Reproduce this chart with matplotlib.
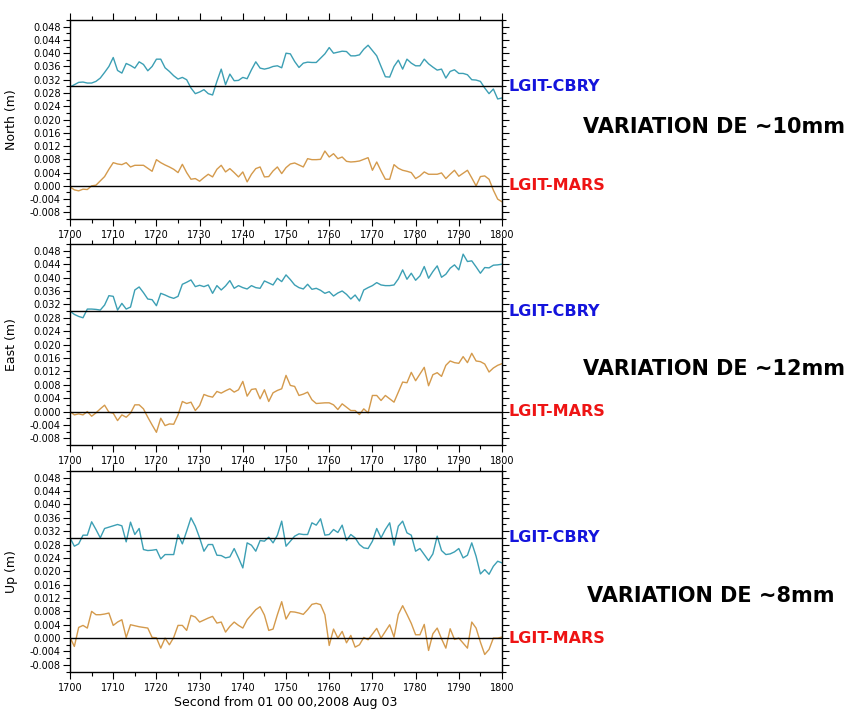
import numpy as np
import matplotlib.pyplot as plt
from matplotlib.ticker import MultipleLocator, FormatStrFormatter

# GPS baseline components, one sample per second (values in mm)
seconds = np.arange(1700, 1801)

north_cbry = [29.8, 30.5, 31.2, 31.3, 31.0, 31.0, 31.5, 32.5, 34.2, 36.0,
              38.7, 34.8, 34.0, 36.9, 36.3, 35.5, 37.4, 36.6, 34.7, 36.0,
              38.2, 38.2, 35.6, 34.5, 33.2, 32.2, 32.7, 32.0, 29.5, 27.8,
              28.3, 29.0, 27.8, 27.4, 31.5, 35.2, 30.5, 33.7, 31.7, 31.8,
              32.7, 32.3, 35.0, 37.4, 35.5, 35.2, 35.5, 36.0, 36.2, 35.6,
              40.0, 39.8, 37.5, 35.7, 37.0, 37.3, 37.2, 37.2, 38.5, 39.8,
              41.7, 40.0, 40.3, 40.6, 40.5, 39.2, 39.2, 39.5, 41.2, 42.4,
              40.8, 39.2, 36.0, 32.9, 32.8, 36.0, 37.9, 35.2, 38.2, 37.0,
              36.2, 36.2, 38.2, 36.8, 35.8, 34.9, 35.2, 32.5, 34.5, 35.0,
              33.9, 33.9, 33.5, 32.0, 31.9, 31.5, 29.5, 27.8, 29.2, 26.2,
              26.5]
north_mars = [-0.3, -1.2, -1.5, -1.0, -1.1, 0.0, 0.2, 1.5, 2.8, 5.0,
              7.0, 6.6, 6.4, 7.0, 5.7, 6.2, 6.2, 6.2, 5.3, 4.4,
              7.9, 7.0, 6.3, 5.7, 5.0, 4.0, 6.5, 4.0, 2.0, 2.2,
              1.4, 2.5, 3.5, 2.7, 5.0, 6.2, 4.2, 5.2, 4.0, 2.7,
              4.2, 1.2, 3.5, 5.2, 5.7, 2.7, 2.8, 4.5, 5.7, 3.7,
              5.5, 6.6, 6.9, 6.3, 5.7, 8.2, 7.9, 7.9, 8.0, 10.5,
              8.7, 9.7, 8.2, 8.7, 7.4, 7.2, 7.3, 7.5, 8.0, 8.5,
              4.7, 7.2, 4.5, 2.0, 2.0, 6.4, 5.3, 4.7, 4.4, 4.0,
              2.2, 3.0, 4.2, 3.5, 3.5, 3.5, 3.9, 2.2, 3.5, 4.7,
              2.9, 3.8, 4.7, 2.4, 0.0, 2.8, 3.0, 2.0, -1.3, -4.0,
              -4.8]
east_cbry = [30.0, 29.0, 28.4, 28.0, 30.6, 30.6, 30.5, 30.3, 31.8, 34.6,
             34.4, 30.3, 32.3, 30.6, 31.2, 36.3, 37.2, 35.5, 33.6, 33.4,
             31.6, 35.3, 34.8, 34.2, 33.8, 34.4, 38.0, 38.6, 39.3, 37.3,
             37.7, 37.3, 37.8, 35.3, 37.6, 36.3, 37.5, 39.1, 36.8, 37.6,
             37.0, 36.6, 37.6, 37.0, 36.8, 39.0, 38.4, 37.8, 39.8, 38.8,
             40.8, 39.4, 37.8, 37.0, 36.6, 38.0, 36.5, 36.8, 36.2, 35.3,
             35.8, 34.5, 35.4, 36.0, 35.0, 33.6, 34.8, 33.0, 36.3, 37.0,
             37.6, 38.5, 37.8, 37.6, 37.6, 37.8, 39.6, 42.3, 39.5, 41.3,
             39.2, 40.5, 43.3, 39.8, 41.8, 43.5, 40.1, 41.0, 42.8, 43.8,
             42.3, 47.0, 44.8, 45.0, 43.2, 41.3, 43.0, 42.9, 43.7, 43.8,
             44.0]
east_mars = [0.0, -1.0, -0.7, -1.0, 0.0, -1.4, -0.4, 0.8, 1.9, -0.2,
             -0.5, -2.7, -1.0, -1.7, -0.5, 2.0, 2.0, 0.8, -1.7, -4.0,
             -6.2, -2.0, -4.2, -3.7, -3.8, -1.0, 3.0, 2.4, 2.8, 0.3,
             1.8, 5.1, 4.6, 4.3, 6.0, 5.5, 6.2, 6.8, 5.8, 6.5,
             9.0, 4.6, 6.6, 6.8, 3.8, 6.5, 3.0, 5.6, 6.3, 6.8,
             10.8, 7.8, 7.5, 4.8, 5.2, 5.8, 3.5, 2.4, 2.5, 2.6,
             2.6, 2.0, 0.6, 2.3, 1.3, 0.3, 0.3, -0.9, 0.8, -0.4,
             4.8, 4.8, 3.3, 4.8, 3.8, 2.8, 5.8, 8.8, 8.6, 11.7,
             9.2, 11.2, 13.2, 7.7, 11.0, 11.6, 10.5, 13.8, 15.1, 14.6,
             14.4, 16.4, 14.6, 17.4, 15.1, 14.9, 14.2, 11.8, 13.0, 13.8,
             14.3]
up_cbry = [30.0, 27.5, 28.2, 30.8, 30.8, 34.8, 32.5, 30.0, 32.8, 33.2,
           33.6, 34.0, 33.6, 28.8, 34.7, 31.0, 32.8, 26.5, 26.2, 26.3,
           26.5, 23.7, 25.0, 25.0, 25.0, 31.0, 28.2, 32.0, 36.0, 33.5,
           30.0, 26.0, 28.0, 28.0, 24.8, 24.7, 24.0, 24.3, 26.8, 24.0,
           21.0, 28.5, 27.8, 26.0, 29.2, 29.0, 30.2, 28.5, 30.8, 35.0,
           27.5, 29.0, 30.5, 31.2, 31.0, 31.0, 34.5, 33.8, 35.7, 30.8,
           31.0, 32.5, 31.6, 33.8, 29.2, 31.0, 30.0, 28.0, 27.0, 26.8,
           29.0, 32.8, 30.0, 32.5, 34.5, 27.8, 33.5, 35.0, 31.5, 30.8,
           26.0, 26.8, 25.0, 23.2, 25.2, 30.5, 26.2, 25.0, 25.2, 25.8,
           26.8, 24.0, 24.8, 28.5, 24.5, 19.2, 20.5, 19.1, 21.5, 23.0,
           22.5]
up_mars = [0.2, -2.5, 3.2, 3.8, 3.0, 8.0, 7.0, 7.0, 7.2, 7.5,
           3.8, 4.8, 5.5, 0.2, 4.0, 3.7, 3.4, 3.2, 3.0, 0.2,
           0.1, -3.0, 0.0, -2.0, 0.2, 3.8, 3.8, 2.3, 6.8, 6.3,
           4.8, 5.4, 6.0, 6.5, 4.5, 4.8, 1.8, 3.5, 4.8, 3.8,
           3.0, 5.5, 7.0, 8.5, 9.4, 6.9, 2.3, 2.7, 7.0, 10.9,
           5.7, 7.9, 7.8, 7.5, 7.1, 8.5, 10.1, 10.4, 10.0, 7.0,
           -2.2, 2.7, 0.0, 2.0, -1.4, 0.8, -2.7, -2.0, 0.2, -0.5,
           1.2, 2.9, 0.0, 2.0, 4.0, 0.3, 7.1, 9.7, 7.1, 4.4,
           1.0, 1.0, 4.1, -3.7, 1.3, 3.0, -0.2, -3.0, 2.8, -0.4,
           0.0, -1.5, -3.0, 4.8, 3.0, -1.2, -4.9, -3.4, 0.0, 0.0,
           0.3]

components = ['North (m)', 'East (m)', 'Up (m)']
variations = ['VARIATION DE ~10mm', 'VARIATION DE ~12mm', 'VARIATION DE ~8mm']
cbry_series = [north_cbry, east_cbry, up_cbry]
mars_series = [north_mars, east_mars, up_mars]

fig = plt.figure(figsize=(8.52, 7.10), dpi=100)

# panel boxes in figure fractions: left, bottom, width, height
boxes = [(0.0822, 0.6915, 0.507, 0.2803),
         (0.0822, 0.3732, 0.507, 0.2830),
         (0.0822, 0.0542, 0.507, 0.2824)]
note_pos = [(0.684, 0.821), (0.684, 0.480), (0.689, 0.161)]

for i, box in enumerate(boxes):
    ax = fig.add_axes(box)
    ax.plot(seconds, np.array(cbry_series[i]) / 1000, color='#3c9fb4', lw=1.0)
    ax.plot(seconds, np.array(mars_series[i]) / 1000, color='#d49a4c', lw=1.0)
    ax.axhline(0.030, color='black', lw=1.0)
    ax.axhline(0.0, color='black', lw=1.0)

    ax.set_xlim(1700, 1800)
    ax.set_ylim(-0.010, 0.050)
    ax.xaxis.set_major_locator(MultipleLocator(10))
    ax.xaxis.set_minor_locator(MultipleLocator(5))
    ax.set_yticks(np.arange(-0.008, 0.0481, 0.004))
    ax.yaxis.set_minor_locator(MultipleLocator(0.002))
    ax.yaxis.set_major_formatter(FormatStrFormatter('%.3f'))
    ax.tick_params(which='both', direction='out', top=True, right=True,
                   labelsize=7, width=0.8)
    ax.tick_params(which='major', length=5)
    ax.tick_params(which='minor', length=3)
    ax.tick_params(axis='y', pad=1.5)
    ax.tick_params(axis='x', pad=3)
    for sp in ax.spines.values():
        sp.set_linewidth(1.0)

    ax.set_ylabel(components[i], fontsize=9)
    ax.yaxis.set_label_coords(-0.120, 0.5)

    ax.text(1.014, 0.030, 'LGIT-CBRY', transform=ax.get_yaxis_transform(),
            color='#1414dc', fontsize=11.5, fontweight='bold',
            ha='left', va='center', clip_on=False)
    ax.text(1.014, 0.0, 'LGIT-MARS', transform=ax.get_yaxis_transform(),
            color='#ee1414', fontsize=11.5, fontweight='bold',
            ha='left', va='center', clip_on=False)

    fig.text(note_pos[i][0], note_pos[i][1], variations[i], fontsize=15,
             fontweight='bold', color='black', ha='left', va='center')

    if i == 2:
        ax.set_xlabel('Second from 01 00 00,2008 Aug 03', fontsize=9)
        ax.xaxis.set_label_coords(0.5, -0.122)

fig.savefig('out.png', dpi=100)
